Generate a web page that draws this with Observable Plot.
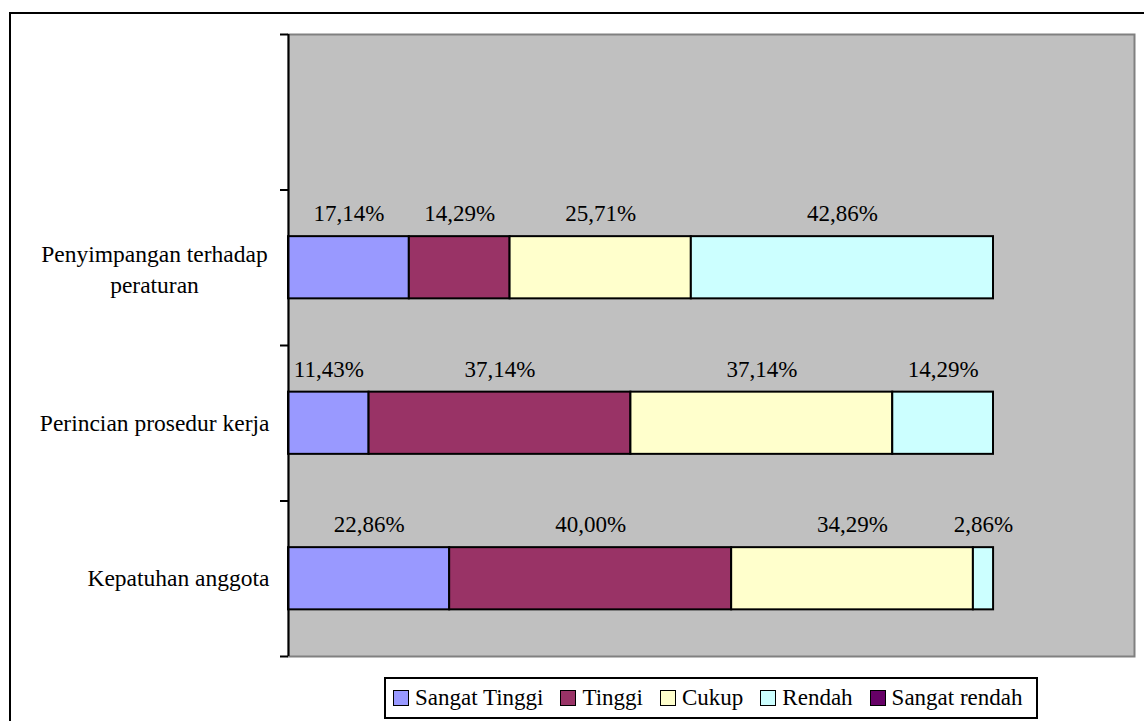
<!DOCTYPE html>
<html>
<head>
<meta charset="utf-8">
<script src="https://cdn.jsdelivr.net/npm/d3@7"></script>
<script src="https://cdn.jsdelivr.net/npm/@observablehq/plot@0.6"></script>
<style>
  html, body { margin: 0; padding: 0; background: #fff; overflow: hidden; width: 1144px; height: 721px; }
  #chart { position: absolute; left: 0; top: 0; }
  #outer { position: absolute; left: 9px; top: 12px; width: 1300px; height: 900px; border: 2px solid #000; box-sizing: border-box; pointer-events: none; }
  #legend { position: absolute; left: 384px; top: 677px; height: 42px; box-sizing: border-box; border: 2px solid #000; background: #fff;
            display: flex; align-items: center; padding: 0 13px 0 7px; font-family: 'Liberation Serif', serif; font-size: 23px; color: #000; }
  .item { display: flex; align-items: center; margin-right: 17px; }
  .item:last-child { margin-right: 0; }
  .sw { width: 14px; height: 14px; border: 1.5px solid #000; margin-right: 6px; }
  #chart svg text { font-family: 'Liberation Serif', serif; }
</style>
</head>
<body>
<div id="chart"></div>
<div id="legend"></div>
<div id="outer"></div>
<script>
// ---- data ----
const categories = ["", "Penyimpangan terhadap\nperaturan", "Perincian prosedur kerja", "Kepatuhan anggota"];
const seriesNames = ["Sangat Tinggi", "Tinggi", "Cukup", "Rendah", "Sangat rendah"];
const seriesColors = ["#9999FF", "#993366", "#FFFFCC", "#CCFFFF", "#660066"];
const sangatTinggi = [0, 17.14, 11.43, 22.86];
const tinggi       = [0, 14.29, 37.14, 40.00];
const cukup        = [0, 25.71, 37.14, 34.29];
const rendah       = [0, 42.86, 14.29, 2.86];
const sangatRendah = [0, 0, 0, 0];

const seriesValues = [sangatTinggi, tinggi, cukup, rendah, sangatRendah];

const rows = [];
categories.forEach((cat, i) => {
  let acc = 0;
  seriesValues.forEach((vals, j) => {
    const v = vals[i];
    rows.push({cat, i, series: seriesNames[j], value: v, x1: acc, x2: acc + v});
    acc += v;
  });
});
const drawn = rows.filter(d => d.value > 0);
const fmt = v => v.toFixed(2).replace(".", ",") + "%";

const font = "Liberation Serif";
const catRows = categories.map((c, i) => ({c, i})).filter(d => d.c !== "");

const chart = Plot.plot({
  width: 1144,
  height: 665,
  marginLeft: 288,
  marginRight: 10,
  marginTop: 34,
  marginBottom: 9,
  style: {background: "transparent", fontFamily: font},
  x: {domain: [0, 120], axis: null},
  y: {domain: [0, categories.length], reverse: true, axis: null},
  color: {domain: seriesNames, range: seriesColors},
  marks: [
    Plot.frame({fill: "#C0C0C0", stroke: "#808080", strokeWidth: 2}),
    Plot.rectX(drawn, {x1: "x1", x2: "x2", y1: d => d.i + 0.3, y2: d => d.i + 0.7,
      fill: "series", stroke: "#000", strokeWidth: 2}),
    Plot.text(drawn, {x: d => (d.x1 + d.x2) / 2, y: d => d.i + 0.3, text: d => fmt(d.value),
      dy: -23, fontSize: 23, fill: "#000", fontFamily: font}),
    Plot.ruleX([0], {stroke: "#000", strokeWidth: 2}),
    Plot.axisY({ticks: d3.range(categories.length + 1), tickFormat: () => "", tickSize: 8,
      stroke: "#000", strokeWidth: 2, anchor: "left"}),
    Plot.text(catRows.filter(d => !d.c.includes("\n")), {x: 0, y: d => d.i + 0.5, text: "c",
      textAnchor: "end", dx: -19, fontSize: 23.5, fill: "#000", fontFamily: font}),
    Plot.text(catRows.filter(d => d.c.includes("\n")), {x: 0, y: d => d.i + 0.5, text: "c",
      textAnchor: "middle", dx: -134, lineHeight: 1.3, fontSize: 23.5, fill: "#000", fontFamily: font})
  ]
});
document.getElementById("chart").appendChild(chart);

const legend = document.getElementById("legend");
seriesNames.forEach((name, j) => {
  const it = document.createElement("div");
  it.className = "item";
  const sw = document.createElement("div");
  sw.className = "sw";
  sw.style.background = seriesColors[j];
  const t = document.createElement("span");
  t.textContent = name;
  it.appendChild(sw);
  it.appendChild(t);
  legend.appendChild(it);
});
</script>
</body>
</html>
